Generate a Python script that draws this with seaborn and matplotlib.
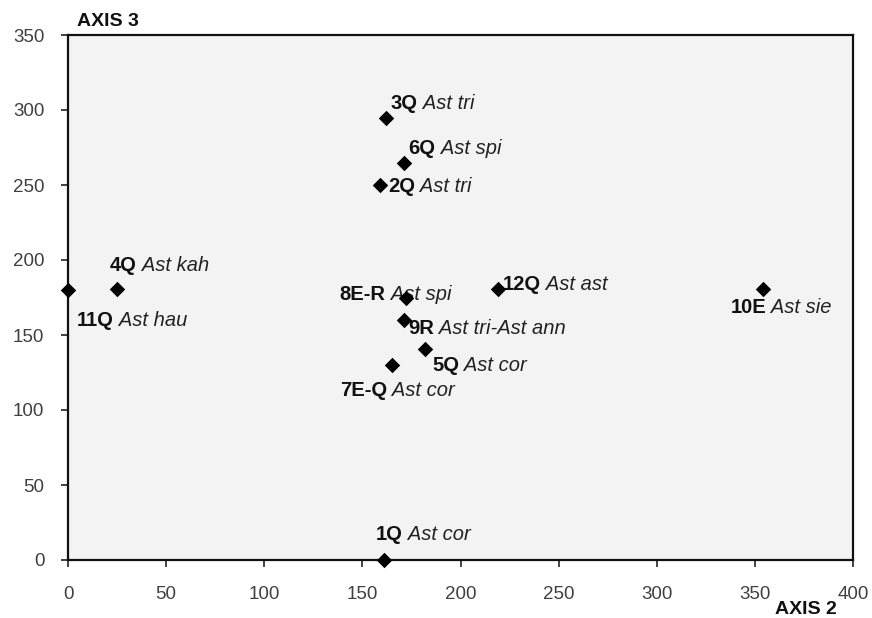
import matplotlib
matplotlib.use("Agg")
import matplotlib.pyplot as plt
import seaborn as sns
import pandas as pd

ids = ["3Q", "6Q", "2Q", "4Q", "11Q", "8E-R", "12Q", "9R", "5Q", "7E-Q", "10E", "1Q"]
species = ["Ast tri", "Ast spi", "Ast tri", "Ast kah", "Ast hau", "Ast spi", "Ast ast",
           "Ast tri-Ast ann", "Ast cor", "Ast cor", "Ast sie", "Ast cor"]
axis2 = [162, 171, 159, 25, 0, 172, 219, 171, 182, 165, 354, 161]
axis3 = [295, 265, 250, 181, 180, 175, 181, 160, 141, 130, 181, 0]
# label offsets in pixels (dx, dy) relative to the point
offsets = [(5, 14), (5, 14), (8, -2), (-7, 23), (9, -30), (-66, 3), (5, 4), (5, -9),
           (7, -17), (-52, -26), (-32, -19), (-8, 26)]

df = pd.DataFrame({"id": ids, "species": species, "AXIS 2": axis2, "AXIS 3": axis3})

sns.set_theme(style="white")
plt.rcParams["font.family"] = ["Liberation Sans", "DejaVu Sans"]

fig = plt.figure(figsize=(8.72, 6.18), dpi=100)
ax = fig.add_axes([68 / 872, 1 - 560 / 618, (853 - 68) / 872, (560 - 35) / 618])
ax.set_facecolor("#f3f3f3")

sns.scatterplot(data=df, x="AXIS 2", y="AXIS 3", marker="D", color="black", s=62,
                edgecolor="black", linewidth=0, ax=ax, clip_on=False, zorder=5)

ax.set_xlim(0, 400)
ax.set_ylim(0, 350)
ax.set_xticks(range(0, 401, 50))
ax.set_yticks(range(0, 351, 50))
ax.set_xlabel("")
ax.set_ylabel("")
ax.tick_params(axis="both", which="major", direction="out", length=5, width=1.2,
               color="#222222", labelsize=13.5, labelcolor="#404040",
               bottom=True, left=True)
ax.tick_params(axis="x", pad=14)
ax.tick_params(axis="y", pad=12)
for sp in ax.spines.values():
    sp.set_visible(True)
    sp.set_color("#111111")
    sp.set_linewidth(1.6)

for i, sp_, x, y, (dx, dy) in zip(ids, species, axis2, axis3, offsets):
    t = ax.annotate(i, (x, y), xytext=(dx, dy), textcoords="offset pixels",
                    fontsize=14.5, fontweight="bold", color="#111111",
                    ha="left", va="center", zorder=4)
    ax.annotate(" " + sp_, xy=(1, 0.5), xycoords=t, fontsize=14.5, fontstyle="italic",
                color="#222222", ha="left", va="center", zorder=4)

fig.text(77 / 872, 1 - 22 / 618, "AXIS 3", fontsize=14, fontweight="bold",
         ha="left", va="center", color="#111111")
fig.text(775 / 872, 1 - 609 / 618, "AXIS 2", fontsize=14, fontweight="bold",
         ha="left", va="center", color="#111111")

fig.savefig("out.png", dpi=100, facecolor="white")
